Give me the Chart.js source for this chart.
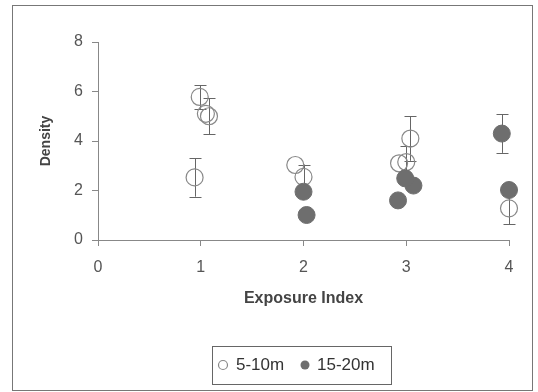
<!DOCTYPE html>
<html>
<head>
<meta charset="utf-8">
<style>
  html, body { margin: 0; padding: 0; background: #fff; }
  #wrap { position: relative; width: 538px; height: 392px; }
</style>
</head>
<body>
<div id="wrap"><canvas id="myChart" width="538" height="392"></canvas></div>

<script src="https://cdn.jsdelivr.net/npm/chart.js@4.4.0/dist/chart.umd.min.js"></script>
<script>
// 5-10m (open circles)
const openX = [0.94, 0.99, 1.05, 1.08, 1.92, 2.0, 2.93, 3.0, 3.04, 4.0];
const openY = [2.53, 5.78, 5.1, 5.0, 3.03, 2.55, 3.1, 3.15, 4.1, 1.28];
const openErr = [0.78, 0.48, 0, 0.72, 0, 0.5, 0, 0.65, 0.9, 0.65];

// 15-20m (filled circles)
const fillX = [2.0, 2.03, 2.92, 3.07, 2.99, 3.93, 4.0];
const fillY = [1.95, 1.01, 1.6, 2.2, 2.49, 4.3, 2.02];
const fillErr = [0, 0, 0, 0, 0, 0.78, 0];

const seriesLabels = ['5-10m', '15-20m'];
const xTicks = [0, 1, 2, 3, 4];
const yTicks = [0, 2, 4, 6, 8];

const axisColor = '#888';
const textColor = '#555';

function toPoints(xs, ys) {
    return xs.map((x, i) => ({ x: x, y: ys[i] }));
}

const errorBars = {
    id: 'errorBars',
    beforeDatasetsDraw(chart) {
        const ctx = chart.ctx;
        const xs = chart.scales.x, ys = chart.scales.y;
        const sets = [[openX, openY, openErr], [fillX, fillY, fillErr]];
        ctx.save();
        ctx.strokeStyle = '#666';
        ctx.lineWidth = 1;
        sets.forEach(s => {
            s[0].forEach((x, i) => {
                const e = s[2][i];
                if (!e) return;
                const px = Math.round(xs.getPixelForValue(x)) + 0.5;
                const top = ys.getPixelForValue(s[1][i] + e);
                const bot = ys.getPixelForValue(s[1][i] - e);
                ctx.beginPath();
                ctx.moveTo(px, top); ctx.lineTo(px, bot);
                ctx.moveTo(px - 6, Math.round(top) + 0.5); ctx.lineTo(px + 6, Math.round(top) + 0.5);
                ctx.moveTo(px - 6, Math.round(bot) + 0.5); ctx.lineTo(px + 6, Math.round(bot) + 0.5);
                ctx.stroke();
            });
        });
        ctx.restore();
    }
};

const frameAndLegend = {
    id: 'frameAndLegend',
    afterDraw(chart) {
        const ctx = chart.ctx;
        ctx.save();
        // outer frame
        ctx.strokeStyle = '#777';
        ctx.lineWidth = 1;
        ctx.strokeRect(12.5, 5.5, 520, 385);
        // legend box
        ctx.strokeStyle = '#666';
        ctx.strokeRect(212.5, 346.5, 179, 38);
        const ds = chart.data.datasets;
        const cy = 365;
        ctx.font = '17px "Liberation Sans", Arial, sans-serif';
        ctx.textBaseline = 'middle';
        ctx.fillStyle = '#333';
        // open marker
        ctx.beginPath();
        ctx.arc(223, cy, 4.5, 0, Math.PI * 2);
        ctx.strokeStyle = ds[0].borderColor;
        ctx.lineWidth = 1.2;
        ctx.stroke();
        ctx.fillText(ds[0].label, 236, cy);
        // filled marker
        ctx.beginPath();
        ctx.arc(305, cy, 4.5, 0, Math.PI * 2);
        ctx.fillStyle = ds[1].backgroundColor;
        ctx.fill();
        ctx.fillStyle = '#333';
        ctx.fillText(ds[1].label, 317, cy);
        ctx.restore();
    }
};

const ctx = document.getElementById('myChart').getContext('2d');
const myChart = new Chart(ctx, {
    type: 'scatter',
    data: {
        datasets: [{
            label: seriesLabels[0],
            data: toPoints(openX, openY),
            backgroundColor: 'rgba(0,0,0,0)',
            borderColor: '#888',
            borderWidth: 1.2,
            pointRadius: 8.5,
            clip: false,
            order: 1
        }, {
            label: seriesLabels[1],
            data: toPoints(fillX, fillY),
            backgroundColor: '#6e6e6e',
            borderColor: '#6e6e6e',
            borderWidth: 1,
            pointRadius: 8.5,
            clip: false,
            order: 0
        }]
    },
    options: {
        responsive: false,
        animation: false,
        layout: { padding: { top: 42, right: 29, bottom: 0, left: 0 } },
        plugins: {
            legend: { display: false },
            tooltip: { enabled: false }
        },
        scales: {
            x: {
                type: 'linear',
                min: 0,
                max: 4,
                afterFit: s => { s.height = 152; },
                afterBuildTicks: s => { s.ticks = xTicks.map(v => ({ value: v })); },
                grid: { drawOnChartArea: false, drawTicks: true, tickLength: 6, color: axisColor },
                border: { display: true, color: axisColor, width: 1 },
                ticks: { color: textColor, padding: 12, font: { family: '"Liberation Sans", Arial', size: 16 } },
                title: {
                    display: true,
                    text: 'Exposure Index',
                    color: '#444',
                    padding: { top: 0, bottom: 84 },
                    font: { family: '"Liberation Sans", Arial', size: 16, weight: 'bold' }
                }
            },
            y: {
                min: 0,
                max: 8,
                afterFit: s => { s.width = 98; },
                afterBuildTicks: s => { s.ticks = yTicks.map(v => ({ value: v })); },
                grid: { drawOnChartArea: false, drawTicks: true, tickLength: 6, color: axisColor },
                border: { display: true, color: axisColor, width: 1 },
                ticks: { color: textColor, padding: 9, font: { family: '"Liberation Sans", Arial', size: 16 } },
                title: {
                    display: true,
                    text: 'Density',
                    color: '#444',
                    padding: { top: 38, bottom: 0 },
                    font: { family: '"Liberation Sans", Arial', size: 14, weight: 'bold' }
                }
            }
        }
    },
    plugins: [errorBars, frameAndLegend]
});
</script>
</body>
</html>
